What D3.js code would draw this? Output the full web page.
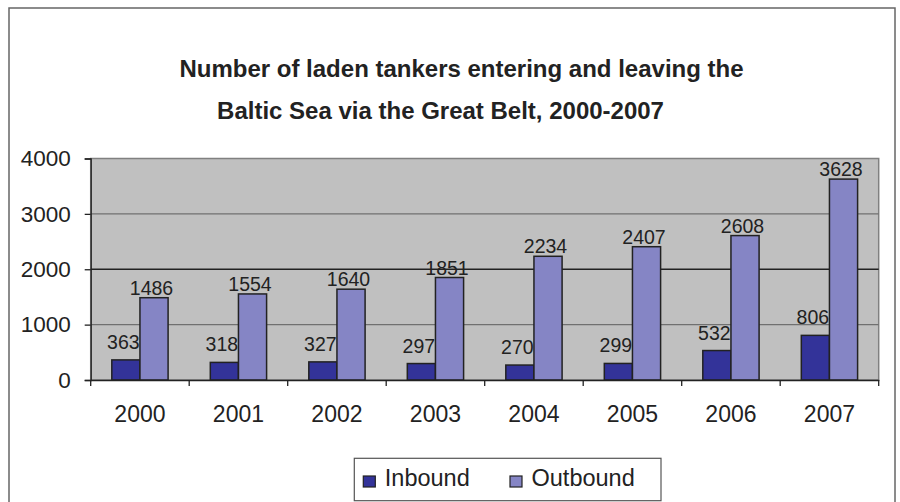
<!DOCTYPE html>
<html>
<head>
<meta charset="utf-8">
<script src="https://cdn.jsdelivr.net/npm/d3@7"></script>
<style>
  html, body { margin: 0; padding: 0; background: #fff; }
  svg { display: block; font-family: "Liberation Sans", Arial, sans-serif; }
</style>
</head>
<body>
<svg id="chart" width="900" height="502"></svg>
<script>
const years = ["2000", "2001", "2002", "2003", "2004", "2005", "2006", "2007"];
const seriesNames = ["Inbound", "Outbound"];
const inbound = [363, 318, 327, 297, 270, 299, 532, 806];
const outbound = [1486, 1554, 1640, 1851, 2234, 2407, 2608, 3628];
const yTicks = [0, 1000, 2000, 3000, 4000];
const titleLines = ["Number of laden tankers entering and leaving the", "Baltic Sea via the Great Belt, 2000-2007"];

const colors = { Inbound: "#333399", Outbound: "#8585c5" };
const labelOffset = { Inbound: 11, Outbound: 3 };
const valuesBySeries = { Inbound: inbound, Outbound: outbound };

const svg = d3.select("#chart");

// outer frame
svg.append("rect")
  .attr("x", 9).attr("y", 8).attr("width", 886).attr("height", 520)
  .attr("fill", "#fff").attr("stroke", "#666").attr("stroke-width", 1.5);

// title
const titleX = [461.5, 440.5];
const titleY = [77, 118.5];
svg.selectAll("text.title").data(titleLines).enter().append("text")
  .attr("class", "title")
  .attr("x", (d, i) => titleX[i]).attr("y", (d, i) => titleY[i])
  .attr("text-anchor", "middle")
  .attr("font-size", 24).attr("font-weight", "bold").attr("fill", "#222")
  .text(d => d);

const plot = { left: 90.7, right: 878.7, top: 158.5, bottom: 380 };

const x = d3.scaleBand().domain(years).range([plot.left, plot.right]).paddingInner(0).paddingOuter(0);
const x1 = d3.scaleBand().domain(seriesNames).range([0, x.bandwidth()]).paddingInner(0).paddingOuter(0.75);
const y = d3.scaleLinear().domain([0, 4000]).range([plot.bottom, plot.top]);

// plot area
svg.append("rect")
  .attr("x", plot.left).attr("y", plot.top)
  .attr("width", plot.right - plot.left).attr("height", plot.bottom - plot.top)
  .attr("fill", "#c0c0c0").attr("stroke", "#808080").attr("stroke-width", 1.5);

// gridlines
svg.selectAll("line.grid").data(yTicks.filter(t => t > 0 && t < 4000)).enter().append("line")
  .attr("class", "grid")
  .attr("x1", plot.left).attr("x2", plot.right)
  .attr("y1", d => y(d)).attr("y2", d => y(d))
  .attr("stroke", d => d === 2000 ? "#222" : "#707070").attr("stroke-width", 1.3);

// bars
const groups = svg.selectAll("g.year").data(years).enter().append("g")
  .attr("class", "year")
  .attr("transform", d => `translate(${x(d)},0)`);

groups.selectAll("rect").data((d, i) => seriesNames.map(s => ({ s, v: valuesBySeries[s][i] })))
  .enter().append("rect")
  .attr("x", d => x1(d.s)).attr("width", x1.bandwidth())
  .attr("y", d => y(d.v)).attr("height", d => y(0) - y(d.v))
  .attr("fill", d => colors[d.s]).attr("stroke", "#222").attr("stroke-width", 1.5);

groups.selectAll("text").data((d, i) => seriesNames.map(s => ({ s, v: valuesBySeries[s][i] })))
  .enter().append("text")
  .attr("x", d => x1(d.s) + x1.bandwidth() / 2 - 2.5)
  .attr("y", d => y(d.v) - labelOffset[d.s])
  .attr("text-anchor", "middle").attr("font-size", 19.5).attr("fill", "#222")
  .text(d => d.v);

// y axis
const yAxis = svg.append("g")
  .attr("transform", `translate(${plot.left},0)`)
  .call(d3.axisLeft(y).tickValues(yTicks).tickSize(6).tickPadding(14).tickFormat(d3.format("d")));
yAxis.select(".domain").attr("stroke", "#222").attr("stroke-width", 1.3);
yAxis.selectAll(".tick line").attr("stroke", "#222").attr("stroke-width", 1.3);
yAxis.selectAll(".tick text").attr("font-size", 22.5).attr("fill", "#222")
  .attr("font-family", "'Liberation Sans', Arial, sans-serif");

// x axis
const xAxis = svg.append("g")
  .attr("transform", `translate(0,${plot.bottom})`)
  .call(d3.axisBottom(x).tickSize(0).tickPadding(26));
xAxis.select(".domain").attr("stroke", "#222").attr("stroke-width", 1.3);
xAxis.selectAll(".tick text").attr("font-size", 23).attr("fill", "#222")
  .attr("font-family", "'Liberation Sans', Arial, sans-serif");
const bounds = d3.range(years.length + 1).map(i => x.range()[0] + i * x.step());
xAxis.selectAll("line.bound").data(bounds).enter().append("line")
  .attr("class", "bound")
  .attr("x1", d => d).attr("x2", d => d).attr("y1", 0).attr("y2", 6)
  .attr("stroke", "#222").attr("stroke-width", 1.3);

// legend
const legend = svg.append("g");
legend.append("rect")
  .attr("x", 354.3).attr("y", 458.3).attr("width", 306.7).attr("height", 42.4)
  .attr("fill", "#fff").attr("stroke", "#555").attr("stroke-width", 1.2);
const legX = [363.3, 510];
const legItems = legend.selectAll("g.item").data(seriesNames).enter().append("g")
  .attr("class", "item")
  .attr("transform", (d, i) => `translate(${legX[i]},0)`);
legItems.append("rect")
  .attr("x", 0).attr("y", 476).attr("width", 12).attr("height", 11)
  .attr("fill", d => colors[d]).attr("stroke", "#222").attr("stroke-width", 1.2);
legItems.append("text")
  .attr("x", 21.5).attr("y", 486)
  .attr("font-size", 23.5).attr("fill", "#222")
  .text(d => d);
</script>
</body>
</html>
